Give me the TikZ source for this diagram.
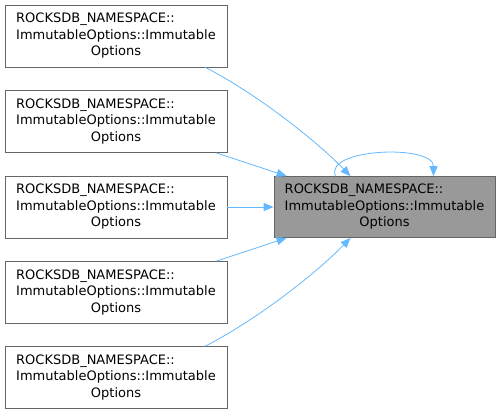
\documentclass[tikz,border=0pt]{standalone}
\usepackage{fontspec}
\setmainfont{DejaVu Sans}
\usepackage{xcolor}
\usetikzlibrary{arrows.meta}
\definecolor{edgeblue}{HTML}{63B8FF}
\definecolor{boxline}{HTML}{666666}
\definecolor{boxgray}{HTML}{999999}
\newcommand{\fnlabel}{\fontsize{13bp}{16.5bp}\selectfont
  \begin{tabular}{@{}l@{}}ROCKSDB\_NAMESPACE::\\ImmutableOptions::Immutable\\\multicolumn{1}{@{}c@{}}{Options}\end{tabular}}
\tikzset{
  fnbox/.style={draw=boxline, line width=0.8pt, fill=white, inner sep=0pt,
    minimum width=222bp, minimum height=62bp},
  fnmain/.style={fnbox, fill=boxgray, minimum width=221bp, minimum height=61bp},
  fnedge/.style={draw=edgeblue, line width=0.8pt,
    -{Triangle[length=10bp,width=8bp,fill=edgeblue]}},
}
\begin{document}
\begin{tikzpicture}[x=1bp,y=-1bp]
\useasboundingbox (0,0) rectangle (501,414);
\node[fnmain] (main) at (384.5,207) {\fnlabel};
\node[fnbox] (c1) at (116,36) {\fnlabel};
\node[fnbox] (c2) at (116,121.5) {\fnlabel};
\node[fnbox] (c3) at (116,207) {\fnlabel};
\node[fnbox] (c4) at (116,292.5) {\fnlabel};
\node[fnbox] (c5) at (116,377.5) {\fnlabel};
\draw[fnedge] ([xshift=-22bp]c1.south east) .. controls +(45,23) and +(-40,-41) .. ([xshift=-34bp]main.north);
\draw[fnedge] ([xshift=-11bp]c2.south east) -- ([xshift=13bp]main.north west);
\draw[fnedge] (c3.east) -- (main.west);
\draw[fnedge] ([xshift=-11bp]c4.north east) -- ([xshift=13bp]main.south west);
\draw[fnedge] ([xshift=-22bp]c5.north east) .. controls +(45,-23) and +(-40,41) .. ([xshift=-34bp]main.south);
% self call
\draw[fnedge] ([xshift=-49bp]main.north) .. controls +(-12,-28) and +(0,-32) .. ([xshift=49bp]main.north);
\end{tikzpicture}
\end{document}
